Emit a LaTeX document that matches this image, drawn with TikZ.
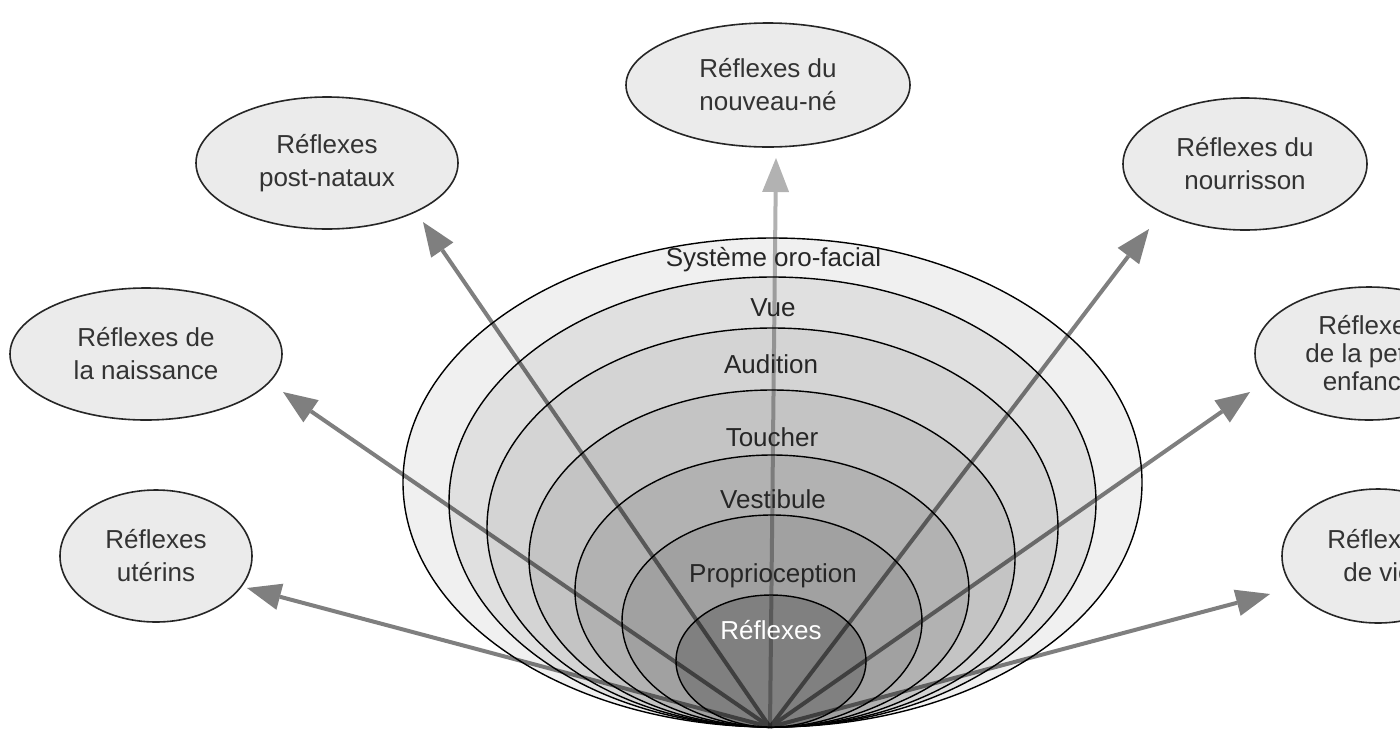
\documentclass[tikz,border=0pt]{standalone}
\usepackage{fontspec}
\setmainfont{Liberation Sans}
\usetikzlibrary{shapes.geometric,arrows.meta}
\definecolor{satfill}{gray}{0.92}
\definecolor{ringA}{gray}{0.94}
\definecolor{ringB}{gray}{0.88}
\definecolor{ringC}{gray}{0.83}
\definecolor{ringD}{gray}{0.77}
\definecolor{ringE}{gray}{0.70}
\definecolor{ringF}{gray}{0.63}
\definecolor{ringG}{gray}{0.50}
\begin{document}
\begin{tikzpicture}[x=1pt,y=-1pt,
  sat/.style={ellipse, draw=black!85, line width=1.6pt, fill=satfill, inner sep=0pt,
    align=center, text=black!80, font=\fontsize{26}{33}\selectfont},
  ring/.style={ellipse, draw=black, line width=1.4pt, inner sep=0pt},
  arr/.style={line width=4pt, draw=black,
    -{Triangle[length=34pt,width=27pt,line width=0pt]}},
  lab/.style={font=\fontsize{26}{30}\selectfont, text=black!85, inner sep=0pt}]
\useasboundingbox (0,0) rectangle (1400,729);
\fill[white] (0,0) rectangle (1400,729);
\clip (0,0) rectangle (1400,729);

% nested rings
\node[ring, fill=ringA, minimum width=739pt, minimum height=489pt] (r1) at (772.5,482.5) {};
\node[ring, fill=ringB, minimum width=647pt, minimum height=450pt] (r2) at (772.5,502) {};
\node[ring, fill=ringC, minimum width=571pt, minimum height=399pt] (r3) at (772.5,527.5) {};
\node[ring, fill=ringD, minimum width=486pt, minimum height=337pt] (r4) at (772,558.5) {};
\node[ring, fill=ringE, minimum width=394pt, minimum height=272pt] (r5) at (772,591) {};
\node[ring, fill=ringF, minimum width=300pt, minimum height=212pt] (r6) at (772,621) {};
\node[ring, fill=ringG, minimum width=190pt, minimum height=132pt] (r7) at (771,661) {};

% arrows
\coordinate (apex) at (770,727);
\coordinate (tut) at (247,588);
\coordinate (tna) at (283,392);
\coordinate (tpo) at (423,222);
\coordinate (tno) at (776,158);
\coordinate (tnr) at (1149,229);
\coordinate (tpe) at (1250,392);
\coordinate (tvi) at (1270,594);
\begin{scope}[transparency group, opacity=0.5]
\draw[arr] (apex) -- (tut);
\draw[arr] (apex) -- (tna);
\draw[arr] (apex) -- (tpo);
\draw[arr] (apex) -- (tnr);
\draw[arr] (apex) -- (tpe);
\draw[arr] (apex) -- (tvi);
\end{scope}
\begin{scope}[transparency group, opacity=0.3]
\draw[arr] (apex) -- (tno);
\end{scope}

% ring labels
\node[lab] (l1) at (773.5,260) {Système oro-facial};
\node[lab] (l2) at (773,308) {Vue};
\node[lab] (l3) at (771,364) {Audition};
\node[lab] (l4) at (772,437) {Toucher};
\node[lab] (l5) at (773,499) {Vestibule};
\node[lab] (l6) at (773,576) {Proprioception};
\node[lab, text=white] (l7) at (771,630) {Réflexes};

% satellites
\node[sat, minimum width=192pt, minimum height=132pt] (sut) at (156,556) {Réflexes\\utérins};
\node[sat, minimum width=272pt, minimum height=132pt] (sna) at (146,354) {Réflexes de\\la naissance};
\node[sat, minimum width=262pt, minimum height=132pt] (spo) at (327,163) {Réflexes\\post-nataux};
\node[sat, minimum width=284pt, minimum height=124pt] (sno) at (768,85) {Réflexes du\\nouveau-né};
\node[sat, minimum width=244pt, minimum height=132pt] (snr) at (1245,164) {Réflexes du\\nourrisson};
\node[sat, minimum width=228pt, minimum height=133pt, font=\fontsize{26}{28}\selectfont] (spe) at (1369,353.5) {Réflexes\\de la petite\\enfance};
\node[sat, minimum width=192pt, minimum height=134pt] (svi) at (1378,556) {Réflexes\\de vie};
\end{tikzpicture}
\end{document}
